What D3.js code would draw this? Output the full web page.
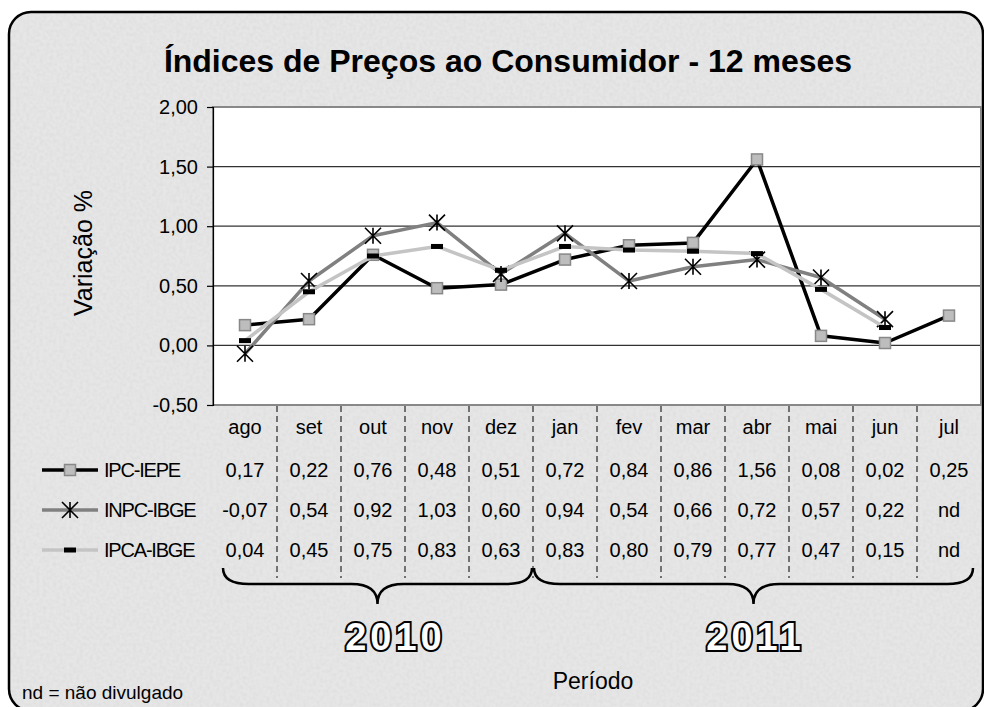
<!DOCTYPE html>
<html>
<head>
<meta charset="utf-8">
<title>Índices de Preços ao Consumidor - 12 meses</title>
<script src="https://d3js.org/d3.v7.min.js"></script>
<style>
  body { margin: 0; background: #fff; }
  text { font-family: "Liberation Sans", Arial, sans-serif; }
</style>
</head>
<body>
<div id="chart"></div>
<script>
// data
var months = ["ago", "set", "out", "nov", "dez", "jan", "fev", "mar", "abr", "mai", "jun", "jul"];
var ipcIepe = [0.17, 0.22, 0.76, 0.48, 0.51, 0.72, 0.84, 0.86, 1.56, 0.08, 0.02, 0.25];
var inpcIbge = [-0.07, 0.54, 0.92, 1.03, 0.60, 0.94, 0.54, 0.66, 0.72, 0.57, 0.22, null];
var ipcaIbge = [0.04, 0.45, 0.75, 0.83, 0.63, 0.83, 0.80, 0.79, 0.77, 0.47, 0.15, null];
var yTicks = [-0.5, 0, 0.5, 1, 1.5, 2];
var yearGroups = [
    { label: "2010", first: "ago", last: "dez" },
    { label: "2011", first: "jan", last: "jul" }
];

var series = [
    { name: "IPC-IEPE", values: ipcIepe, color: "#000", marker: "square" },
    { name: "INPC-IBGE", values: inpcIbge, color: "#808080", marker: "star" },
    { name: "IPCA-IBGE", values: ipcaIbge, color: "#c4c4c4", marker: "dash" }
];

var W = 984, H = 707;
var plot = { left: 213, right: 981, top: 107, bottom: 405 };

var br = d3.formatLocale({ decimal: ",", thousands: ".", grouping: [3], currency: ["R$", ""], minus: "-" });
var fmt = br.format(".2f");

var svg = d3.select("#chart").append("svg")
    .attr("width", W)
    .attr("height", H);

// grainy grey background
var defs = svg.append("defs");
var f = defs.append("filter").attr("id", "grain").attr("x", 0).attr("y", 0).attr("width", 1).attr("height", 1);
f.append("feTurbulence").attr("type", "fractalNoise").attr("baseFrequency", 0.3).attr("numOctaves", 1).attr("seed", 3);
f.append("feColorMatrix").attr("type", "matrix")
    .attr("values", "0 0 0 0 0.55  0 0 0 0 0.55  0 0 0 0 0.55  1.2 0 0 0 -0.45");

// frame runs just past the bottom edge of the picture
var frame = { x: 9, y: 12, w: 974, h: 699, r: 22 };
defs.append("clipPath").attr("id", "frame")
    .append("rect").attr("x", frame.x).attr("y", frame.y).attr("width", frame.w).attr("height", frame.h).attr("rx", frame.r);

var bg = svg.append("g").attr("clip-path", "url(#frame)");
bg.append("rect").attr("x", 0).attr("y", 0).attr("width", W).attr("height", H).attr("fill", "#e6e6e6");
bg.append("rect").attr("x", 0).attr("y", 0).attr("width", W).attr("height", H)
    .attr("filter", "url(#grain)").attr("opacity", 0.35);

svg.append("rect")
    .attr("x", frame.x).attr("y", frame.y).attr("width", frame.w).attr("height", frame.h).attr("rx", frame.r)
    .attr("fill", "none").attr("stroke", "#000").attr("stroke-width", 2.5);

// title
svg.append("text")
    .attr("x", 508).attr("y", 72)
    .attr("text-anchor", "middle")
    .attr("font-size", 32).attr("font-weight", "bold")
    .text("Índices de Preços ao Consumidor - 12 meses");

// scales
var x = d3.scaleBand().domain(months).range([plot.left, plot.right]);
var y = d3.scaleLinear().domain([-0.5, 2]).range([plot.bottom, plot.top]);
var cx = function (m) { return x(m) + x.bandwidth() / 2; };

// plot area
svg.append("rect")
    .attr("x", plot.left).attr("y", plot.top)
    .attr("width", plot.right - plot.left).attr("height", plot.bottom - plot.top)
    .attr("fill", "#fff");

svg.append("g").selectAll("line")
    .data(yTicks.slice(1, -1))
    .join("line")
    .attr("x1", plot.left).attr("x2", plot.right)
    .attr("y1", function (d) { return y(d); }).attr("y2", function (d) { return y(d); })
    .attr("stroke", "#333").attr("stroke-width", 1.2);

svg.append("rect")
    .attr("x", plot.left).attr("y", plot.top)
    .attr("width", plot.right - plot.left).attr("height", plot.bottom - plot.top)
    .attr("fill", "none").attr("stroke", "#888").attr("stroke-width", 2);

// y axis
var yAxis = svg.append("g")
    .attr("transform", "translate(" + plot.left + ",0)")
    .call(d3.axisLeft(y).tickValues(yTicks).tickFormat(fmt).tickSize(6).tickPadding(9));
yAxis.selectAll("path, line").attr("stroke", "#000").attr("stroke-width", 1.2);
yAxis.selectAll("text").attr("font-size", 20).attr("fill", "#000")
    .attr("font-family", '"Liberation Sans", Arial, sans-serif');

svg.append("text")
    .attr("transform", "translate(92,253) rotate(-90)")
    .attr("text-anchor", "middle")
    .attr("font-size", 25)
    .text("Variação %");

// markers
function drawMarker(g, type, px, py) {
    if (type === "square") {
        g.append("rect").attr("x", px - 5.5).attr("y", py - 5.5).attr("width", 11).attr("height", 11)
            .attr("fill", "#bdbdbd").attr("stroke", "#888").attr("stroke-width", 1.5);
    } else if (type === "star") {
        var s = 8;
        g.append("path")
            .attr("d", "M" + (px - s) + "," + (py - s) + "L" + (px + s) + "," + (py + s) +
                "M" + (px - s) + "," + (py + s) + "L" + (px + s) + "," + (py - s) +
                "M" + px + "," + (py - s) + "L" + px + "," + (py + s))
            .attr("stroke", "#000").attr("stroke-width", 1.6).attr("fill", "none");
    } else {
        g.append("rect").attr("x", px - 6).attr("y", py - 2.5).attr("width", 12).attr("height", 5)
            .attr("fill", "#000");
    }
}

// lines
var line = d3.line()
    .defined(function (d) { return d.v !== null; })
    .x(function (d) { return cx(d.m); })
    .y(function (d) { return y(d.v); });

series.forEach(function (s) {
    var pts = months.map(function (m, i) { return { m: m, v: s.values[i] }; });
    var g = svg.append("g");
    g.append("path")
        .attr("d", line(pts))
        .attr("fill", "none")
        .attr("stroke", s.color)
        .attr("stroke-width", 3.5)
        .attr("stroke-linejoin", "round");
    pts.filter(function (d) { return d.v !== null; }).forEach(function (d) {
        drawMarker(g, s.marker, cx(d.m), y(d.v));
    });
});

// data table under the plot
var rowY = { head: 427, rows: [470, 510, 550] };

svg.append("g").selectAll("line")
    .data(months.slice(1))
    .join("line")
    .attr("x1", function (m) { return x(m); }).attr("x2", function (m) { return x(m); })
    .attr("y1", plot.bottom + 1).attr("y2", 578)
    .attr("stroke", "#000").attr("stroke-width", 1)
    .attr("stroke-dasharray", "6,4");

svg.append("g").selectAll("text")
    .data(months)
    .join("text")
    .attr("x", cx).attr("y", rowY.head)
    .attr("dy", "0.35em")
    .attr("text-anchor", "middle")
    .attr("font-size", 20)
    .text(function (m) { return m; });

series.forEach(function (s, k) {
    var ry = rowY.rows[k];
    var g = svg.append("g");
    g.append("line")
        .attr("x1", 42).attr("x2", 98).attr("y1", ry).attr("y2", ry)
        .attr("stroke", s.color).attr("stroke-width", 3.5);
    drawMarker(g, s.marker, 70, ry);
    g.append("text")
        .attr("x", 104).attr("y", ry).attr("dy", "0.35em")
        .attr("font-size", 20).attr("letter-spacing", -1.2)
        .text(s.name);
    g.selectAll("text.v")
        .data(months)
        .join("text")
        .attr("class", "v")
        .attr("x", cx).attr("y", ry).attr("dy", "0.35em")
        .attr("text-anchor", "middle")
        .attr("font-size", 20)
        .text(function (m, i) { return s.values[i] === null ? "nd" : fmt(s.values[i]); });
});

// year braces
function bracePath(x1, x2, yTop) {
    var mid = (x1 + x2) / 2, yl = yTop + 16, tip = yl + 20, q = 26;
    return "M" + x1 + "," + yTop +
        "Q" + x1 + "," + yl + " " + (x1 + q) + "," + yl +
        "L" + (mid - q) + "," + yl +
        "Q" + mid + "," + yl + " " + mid + "," + tip +
        "Q" + mid + "," + yl + " " + (mid + q) + "," + yl +
        "L" + (x2 - q) + "," + yl +
        "Q" + x2 + "," + yl + " " + x2 + "," + yTop;
}

yearGroups.forEach(function (gr, i) {
    var x1 = x(gr.first) + (i === 0 ? 10 : 1);
    var x2 = x(gr.last) + x.bandwidth() - (i === 0 ? 1 : 8);
    svg.append("path")
        .attr("d", bracePath(x1, x2, 568))
        .attr("fill", "none").attr("stroke", "#000").attr("stroke-width", 2.5);
    svg.append("text")
        .attr("x", (x1 + x2) / 2 + (i === 0 ? 18 : 2)).attr("y", 650)
        .attr("text-anchor", "middle")
        .attr("font-family", '"DejaVu Sans", sans-serif')
        .attr("font-weight", "bold")
        .attr("font-size", 38)
        .attr("letter-spacing", 4)
        .attr("fill", "#fff").attr("stroke", "#000").attr("stroke-width", 4)
        .attr("paint-order", "stroke")
        .text(gr.label);
});

svg.append("text")
    .attr("x", 593).attr("y", 689)
    .attr("text-anchor", "middle")
    .attr("font-size", 23)
    .text("Período");

svg.append("text")
    .attr("x", 22).attr("y", 699)
    .attr("font-size", 19)
    .text("nd = não divulgado");
</script>
</body>
</html>
